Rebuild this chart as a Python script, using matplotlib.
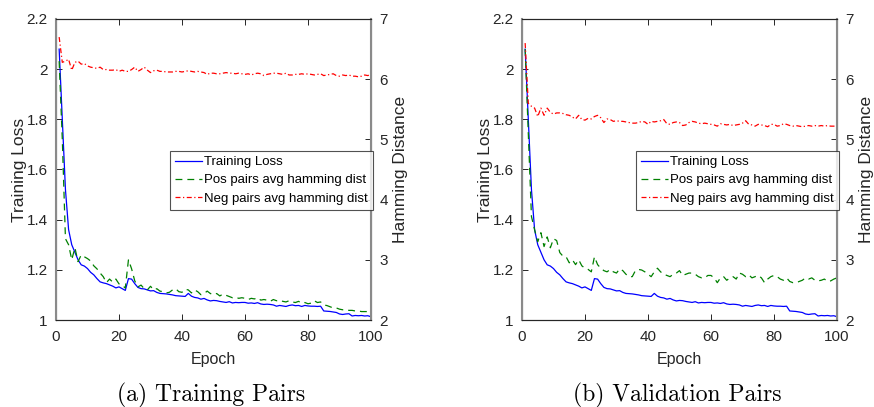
import numpy as np
import matplotlib
matplotlib.use("Agg")
import matplotlib.pyplot as plt

# training loss per epoch (same curve in both panels)
loss = [2.08, 1.80, 1.52, 1.36, 1.30, 1.27, 1.24, 1.22, 1.215, 1.205,
        1.19, 1.18, 1.165, 1.152, 1.148, 1.145, 1.14, 1.135, 1.128, 1.132,
        1.125, 1.118, 1.165, 1.163, 1.145, 1.13, 1.125, 1.124, 1.12, 1.116,
        1.117, 1.11, 1.106, 1.105, 1.104, 1.102, 1.10, 1.097, 1.096, 1.095,
        1.094, 1.106, 1.095, 1.09, 1.088, 1.083, 1.086, 1.08, 1.076, 1.078,
        1.077, 1.074, 1.072, 1.07, 1.073, 1.068, 1.07, 1.069, 1.07, 1.07,
        1.067, 1.068, 1.066, 1.069, 1.064, 1.062, 1.063, 1.062, 1.06, 1.055,
        1.058, 1.056, 1.054, 1.058, 1.06, 1.057, 1.058, 1.054, 1.058, 1.056,
        1.055, 1.055, 1.054, 1.055, 1.036, 1.035, 1.034, 1.032, 1.03, 1.024,
        1.022, 1.024, 1.025, 1.016, 1.018, 1.017, 1.018, 1.016, 1.017, 1.013]

# (a) training pairs, hamming distances
pos_a = [6.3, 5.0, 3.35, 3.25, 3.0, 3.2, 2.97, 3.08, 3.05, 3.02,
         2.98, 2.9, 2.85, 2.78, 2.72, 2.62, 2.68, 2.63, 2.68, 2.6,
         2.58, 2.53, 3.0, 2.85, 2.65, 2.55, 2.58, 2.52, 2.5, 2.56,
         2.5, 2.52, 2.48, 2.47, 2.45, 2.46, 2.5, 2.52, 2.47, 2.46,
         2.51, 2.5, 2.45, 2.5, 2.47, 2.42, 2.44, 2.48, 2.44, 2.42,
         2.44, 2.4, 2.43, 2.41, 2.39, 2.37, 2.38, 2.36, 2.37, 2.36,
         2.34, 2.36, 2.35, 2.37, 2.33, 2.34, 2.33, 2.31, 2.34, 2.32,
         2.33, 2.31, 2.3, 2.32, 2.3, 2.29, 2.31, 2.28, 2.29, 2.27,
         2.28, 2.32, 2.29, 2.3, 2.25, 2.24, 2.22, 2.2, 2.2, 2.18,
         2.17, 2.17, 2.16, 2.16, 2.15, 2.15, 2.14, 2.14, 2.14, 2.13]
neg_a = [6.7, 6.28, 6.3, 6.33, 6.15, 6.28, 6.3, 6.25, 6.26, 6.22,
         6.2, 6.19, 6.18, 6.2, 6.16, 6.16, 6.15, 6.15, 6.16, 6.13,
         6.15, 6.13, 6.13, 6.16, 6.2, 6.13, 6.16, 6.2, 6.15, 6.11,
         6.14, 6.15, 6.13, 6.13, 6.12, 6.12, 6.12, 6.13, 6.13, 6.12,
         6.13, 6.14, 6.13, 6.12, 6.13, 6.12, 6.11, 6.08, 6.1, 6.1,
         6.09, 6.09, 6.1, 6.11, 6.1, 6.1, 6.09, 6.1, 6.09, 6.08,
         6.09, 6.07, 6.09, 6.1, 6.09, 6.06, 6.08, 6.09, 6.1, 6.1,
         6.09, 6.08, 6.1, 6.07, 6.07, 6.08, 6.08, 6.09, 6.08, 6.09,
         6.08, 6.07, 6.08, 6.09, 6.06, 6.07, 6.08, 6.09, 6.06, 6.05,
         6.07, 6.06, 6.07, 6.05, 6.05, 6.04, 6.05, 6.07, 6.06, 6.08]

# (b) validation pairs, hamming distances
pos_b = [6.5, 5.1, 3.72, 3.5, 3.3, 3.45, 3.22, 3.38, 3.2, 3.35,
         3.32, 3.12, 3.06, 3.05, 2.95, 3.0, 2.92, 3.0, 2.9, 2.86,
         2.84, 2.8, 3.05, 2.92, 2.86, 2.82, 2.8, 2.84, 2.8, 2.78,
         2.85, 2.82, 2.76, 2.72, 2.72, 2.82, 2.84, 2.83, 2.8, 2.76,
         2.72, 2.8, 2.86, 2.8, 2.76, 2.74, 2.72, 2.76, 2.78, 2.82,
         2.74, 2.76, 2.78, 2.78, 2.76, 2.72, 2.7, 2.7, 2.74, 2.74,
         2.7, 2.62, 2.7, 2.72, 2.66, 2.7, 2.72, 2.68, 2.78, 2.76,
         2.72, 2.75, 2.7, 2.72, 2.74, 2.7, 2.62, 2.68, 2.72, 2.74,
         2.72, 2.68, 2.66, 2.7, 2.64, 2.62, 2.62, 2.64, 2.66, 2.7,
         2.68, 2.7, 2.66, 2.65, 2.66, 2.68, 2.64, 2.65, 2.68, 2.7]
neg_b = [6.6, 5.6, 5.55, 5.52, 5.38, 5.52, 5.4, 5.52, 5.45, 5.42,
         5.44, 5.44, 5.43, 5.41, 5.4, 5.37, 5.34, 5.4, 5.33, 5.32,
         5.35, 5.34, 5.38, 5.4, 5.36, 5.28, 5.34, 5.33, 5.3, 5.31,
         5.3, 5.3, 5.29, 5.28, 5.27, 5.27, 5.28, 5.3, 5.29, 5.25,
         5.3, 5.29, 5.3, 5.31, 5.33, 5.26, 5.25, 5.28, 5.29, 5.28,
         5.23, 5.24, 5.28, 5.3, 5.29, 5.27, 5.26, 5.27, 5.26, 5.25,
         5.24, 5.22, 5.26, 5.25, 5.24, 5.25, 5.23, 5.24, 5.25, 5.27,
         5.31, 5.25, 5.24, 5.22, 5.25, 5.24, 5.23, 5.21, 5.25, 5.25,
         5.22, 5.23, 5.26, 5.25, 5.23, 5.22, 5.23, 5.22, 5.21, 5.22,
         5.23, 5.22, 5.23, 5.22, 5.23, 5.22, 5.23, 5.22, 5.22, 5.22]

epochs = np.arange(1, len(loss) + 1)
captions = ["(a) Training Pairs", "(b) Validation Pairs"]
panels = [(pos_a, neg_a), (pos_b, neg_b)]

plt.rcParams['font.family'] = ['Liberation Sans', 'DejaVu Sans']
axcol = '#262626'
sidecol = '#8a8a8a'

fig = plt.figure(figsize=(8.74, 4.07), dpi=100)
lefts = [56 / 874, 522 / 874]
capx = [211 / 874, 677 / 874]

for i, (pos, neg) in enumerate(panels):
    ax = fig.add_axes([lefts[i], 1 - 320 / 407, 315 / 874, 301 / 407])
    ax2 = ax.twinx()
    l1, = ax.plot(epochs, loss, color='#0000ff', lw=0.9, label='Training Loss')
    l2, = ax2.plot(epochs, pos, color='#008000', lw=0.9, ls=(0, (5.5, 4)),
                   label='Pos pairs avg hamming dist')
    l3, = ax2.plot(epochs, neg, color='#ff0000', lw=0.9, ls=(0, (4, 2, 1, 2)),
                   label='Neg pairs avg hamming dist')
    ax.set_xlim(0, 100)
    ax.set_ylim(1, 2.2)
    ax2.set_ylim(2, 7)
    ax.set_xticks([0, 20, 40, 60, 80, 100])
    ax.set_yticks([1, 1.2, 1.4, 1.6, 1.8, 2, 2.2])
    ax.set_yticklabels(['1', '1.2', '1.4', '1.6', '1.8', '2', '2.2'])
    ax2.set_yticks([2, 3, 4, 5, 6, 7])
    for a in (ax, ax2):
        a.tick_params(direction='in', length=4, width=0.7, labelsize=11,
                      colors=axcol, pad=6, top=True)
        for s in a.spines.values():
            s.set_color(axcol)
            s.set_linewidth(0.8)
    ax.tick_params(axis='x', pad=7)
    ax2.spines['left'].set_color(sidecol)
    ax2.spines['left'].set_linewidth(1.5)
    ax2.spines['right'].set_color(sidecol)
    ax2.spines['right'].set_linewidth(1.5)
    ax.set_xlabel('Epoch', fontsize=11.5, color=axcol, labelpad=6)
    ax.set_ylabel('Training Loss', fontsize=12.5, color=axcol, labelpad=0)
    ax2.set_ylabel('Hamming Distance', fontsize=12.5, color=axcol, labelpad=4)
    leg = ax2.legend(handles=[l1, l2, l3], loc='upper right',
                     bbox_to_anchor=(1.006, 0.5625), fontsize=9.5,
                     frameon=True, fancybox=False, handlelength=2.0,
                     handletextpad=0.15, borderpad=0.4, labelspacing=0.45,
                     borderaxespad=0)
    leg.get_frame().set_edgecolor(axcol)
    leg.get_frame().set_linewidth(0.8)
    fig.text(capx[i], 0.014, captions[i], family='cmr10', fontsize=17,
             ha='center', va='baseline')

fig.savefig('out.png', dpi=100)
